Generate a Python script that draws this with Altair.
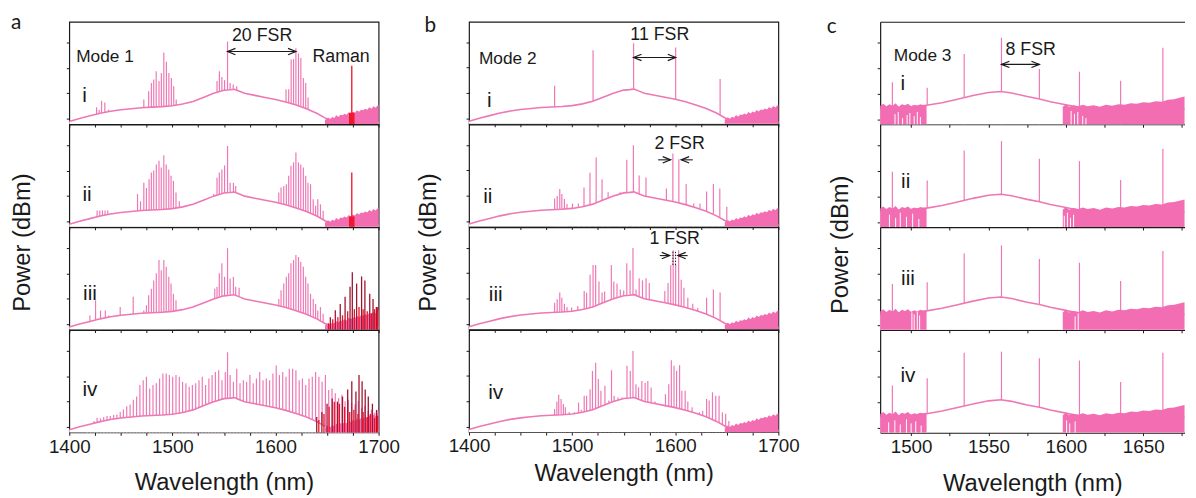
import altair as alt
import pandas as pd

FONT = "Liberation Sans"
PINK = "#EE78B5"
FILL = "#F26DB2"
RED = "#EE1020"
DARK = "#9E1530"
INK = "#1a1a1a"

# ---------------- axes / layout values ----------------
XDOM = {"a": [1400, 1700], "b": [1400, 1700], "c": [1480, 1676.7]}
XTICKS_AB = [1400, 1425, 1450, 1475, 1500, 1525, 1550, 1575, 1600, 1625, 1650, 1675, 1700]
XTICKS_C = [1500, 1525, 1550, 1575, 1600, 1625, 1650, 1675]
YTICKS = [5, 30, 55, 80]
WIDTH = {"a": 313, "b": 313, "c": 308}
HEIGHT = {"a": 103.5, "b": 103.25, "c": 103.75}
TITLE_PAD = {"a": 15, "b": 6, "c": 16}
GAP_AB = 16.5
GAP_BC = 26.5

# ---------------- background (ASE hump) ----------------
BASE_WL = [1400, 1405, 1410, 1420, 1430, 1440, 1450, 1460, 1470, 1480, 1490, 1500, 1510, 1520, 1530, 1540,
           1550, 1556, 1560, 1565, 1570, 1580, 1590, 1600, 1610, 1620, 1630, 1640, 1648, 1655, 1665, 1680, 1700]
BASE_LV = [2.5, 4, 5.5, 8, 10.5, 12.5, 14, 15, 16, 16.5, 17, 17.8, 19.5, 22, 26, 30,
           33, 33.5, 34, 32, 30, 28, 26, 24, 21.5, 18.5, 15, 10.5, 6, 3, 2, 2, 2]
C_BASE_WL = [1480, 1490, 1500, 1510, 1520, 1530, 1540, 1550, 1558, 1565, 1575, 1583, 1590, 1600, 1610, 1630, 1660, 1676.7]
C_BASE_LV = [15, 16, 17, 18.5, 21, 24.5, 28, 31, 32, 30.5, 27, 24.7, 22, 19, 16, 15, 15, 15]

NOISE_AB_WL = [1648, 1651, 1653, 1655, 1657, 1659, 1661, 1663, 1665, 1667, 1669, 1671, 1673, 1675, 1677,
               1679, 1681, 1683, 1685, 1687, 1689, 1691, 1693, 1695, 1697, 1700]
NOISE_AB_LV = [4, 6.5, 5, 7, 6, 8.5, 7, 9, 8.5, 10, 9, 11.5, 10, 12, 11,
               13.5, 12, 14, 13.5, 15, 14, 16.5, 15, 17.5, 16, 19]
NOISE_C_WL = [1480, 1482, 1484, 1486, 1488, 1490, 1492, 1494, 1496, 1498, 1500, 1502, 1504, 1506, 1508, 1510,
              1598, 1600, 1602, 1605, 1608, 1611, 1614, 1618, 1622, 1626, 1630, 1634, 1638, 1642, 1646, 1650,
              1654, 1658, 1662, 1666, 1670, 1674, 1676.7]
NOISE_C_LV = [18, 20, 17.5, 19.5, 18, 20.5, 17, 19.5, 18.5, 20, 17.5, 19, 18, 19.5, 18.5, 19,
              17, 19.5, 17, 18.5, 17.5, 19, 17.5, 18.5, 17, 19, 18, 19.5, 19, 20.5, 20, 21.5,
              21, 22.5, 22, 24, 24.5, 26, 27]
NOISE_C_SEG = [1] * 16 + [2] * 23

# ---------------- comb lines, Mode 1 ----------------
A1_WL = [1426.5, 1429, 1431.3, 1434.5, 1438,
         1472.3, 1477, 1479.6, 1481.9, 1484.3, 1487, 1489.3, 1491.7, 1494.2, 1496.6, 1499, 1501.3, 1503.7,
         1543.3, 1545.6, 1548, 1550.6, 1553.5, 1556, 1559, 1562.4,
         1605.4, 1610.2, 1612.8, 1615.2, 1617.5, 1619.8, 1622.3, 1624.6, 1627, 1629.3, 1631.6]
A1_PK = [16.3, 14, 22.8, 21, 14,
         24, 32, 40, 43.5, 51.6, 42, 50, 70, 61, 50, 45, 37, 24,
         42, 51.6, 46, 43, 80.6, 40, 38.7, 37,
         22.6, 34, 34, 63, 63.5, 74, 69, 64.5, 45, 40, 26]
A2_WL = [1427, 1429.6, 1432.2, 1434.7, 1437.3,
         1466.2, 1469.1, 1472.3, 1474.8, 1477.4, 1479.6, 1481.9, 1484.4, 1487, 1489.2, 1491.7, 1494, 1496.5,
         1498.7, 1501, 1503.5, 1506.7,
         1540.1, 1543.3, 1545.5, 1548, 1550.6, 1553.5, 1556, 1559.2, 1561.4,
         1603.2, 1605.4, 1608, 1610.5, 1612.8, 1615, 1617.5, 1619.8, 1622.3, 1624.5, 1627, 1629.3, 1631.5,
         1634, 1636.6, 1638.9, 1641, 1643.6, 1646.2]
A2_PK = [16, 16, 16, 16, 16,
         32, 25, 43, 38, 46.6, 53, 55, 61, 64.5, 58, 70, 61, 56,
         50, 45, 33.5, 25,
         32, 48, 53, 56, 60, 79, 43, 43, 40,
         33.5, 38.4, 40, 41.7, 50, 59.6, 63, 72.6, 63, 61, 58, 50, 43,
         41.7, 27, 20.5, 27, 22, 15.6]
A3_WL = [1420, 1425.5, 1430.3, 1435, 1438.2, 1449.4, 1462,
         1472.3, 1474.8, 1477, 1479.6, 1481.9, 1484.4, 1487, 1489.2, 1491.7, 1494, 1496.5, 1498.7, 1501, 1503.5,
         1541.1, 1543.3, 1545.5, 1548, 1550.6, 1553.5, 1556, 1559.2, 1561.4, 1564.7,
         1603.2, 1605.4, 1608, 1610.5, 1612.8, 1615, 1617.5, 1619.8, 1622.3, 1624.5, 1627, 1629.3, 1631.5,
         1634, 1636.6, 1638.9, 1641, 1643.6, 1646.2]
A3_PK = [13.8, 28.6, 18.7, 18.7, 13.8, 22, 32,
         18.7, 23.7, 33.5, 40, 48, 55, 68, 58, 68, 61.5, 51.6, 45, 35, 28.6,
         40, 41.8, 55, 64.8, 51.6, 79.6, 50, 51.6, 41.8, 41,
         30, 38.5, 45, 51.6, 55, 64.8, 68, 73, 71, 66.4, 61.5, 51.6, 45,
         35, 30, 25, 18.7, 22, 15.5]
A4_WL = [1417.5, 1420.7, 1424, 1427, 1430.3, 1433.4, 1436.6, 1439.8, 1443, 1446.2,
         1449.4, 1452.5, 1455.7, 1459, 1462.1, 1465.3, 1468.5, 1471.7, 1474.8, 1478,
         1481.2, 1484.4, 1487.6, 1490.8, 1494, 1497.1, 1500.3, 1503.5, 1506.7, 1509.9,
         1513.1, 1516.3, 1519.4, 1522.6, 1525.8, 1529, 1532.2, 1535.4, 1538.5, 1541.7,
         1544.9, 1548.1, 1551.3, 1553.5, 1556, 1559.2, 1562.4, 1565.6, 1568.8, 1572,
         1575.2, 1578.4, 1581.5, 1584.7, 1587.9, 1591.1, 1594.3, 1597.5, 1600.7, 1603.8,
         1607, 1610.2, 1613.4, 1616.6, 1619.8, 1623, 1626.1, 1629.3, 1632.5, 1635.7,
         1638.9, 1642.1, 1645.2, 1648.4, 1651.6, 1654.8, 1658, 1661.2, 1664.4, 1667.5,
         1670.7, 1673.9, 1677.1, 1680.3, 1683.5, 1686.7, 1689.8, 1693, 1696.2, 1699.4]
A4_PK = [6.4, 8, 11.2, 14.4, 13.7, 15, 16, 16, 17, 17.6,
         20, 22.4, 25.6, 27.2, 32, 35, 46.3, 51, 54.3, 43,
         46.3, 48, 52.7, 57.5, 57.5, 56, 54.3, 56, 54.3, 49.5,
         48, 44.7, 46.3, 48, 51, 54.3, 46.3, 52.7, 56, 59,
         60.7, 51, 59, 78.3, 56, 49.5, 62.3, 48, 51, 49.5,
         56, 48, 52.7, 59, 51, 52.7, 51, 57.5, 65.5, 56,
         59, 54.3, 62.3, 62.3, 60.7, 51, 52.7, 46.3, 52.7, 54.3,
         59, 54.3, 49.5, 56, 41.5, 43, 38.3, 33.5, 36.7, 30.4,
         32, 28.8, 27.2, 30.4, 24, 25.6, 20.8, 22.4, 19.2, 20.8]

# Raman lines (Mode 1)
RAMAN_A1_WL = [1672, 1673, 1675, 1676, 1674]
RAMAN_A1_PK = [11, 11, 11, 11, 57]
RAMAN_A2_WL = [1672, 1673, 1675, 1676, 1674]
RAMAN_A2_PK = [10, 10, 10, 10, 53]
DARK_A3_WL = [1653.2, 1658, 1662.8, 1667.5, 1672.3, 1674.5, 1678.7, 1683.5, 1686.7, 1691.4, 1694.6, 1697.8]
DARK_A3_PK = [12, 19, 25, 32, 42, 56, 45, 52, 48, 35, 30, 22]
RED_A3_WL = [1651.5, 1655.5, 1660.5, 1665, 1670, 1676.5, 1681, 1685, 1689, 1693, 1696, 1699]
RED_A3_PK = [6, 10, 12, 14, 18, 20, 22, 20, 18, 16, 20, 22]
DARK_A4_WL = [1640, 1645, 1650, 1655, 1660, 1665, 1670, 1674, 1678, 1681, 1684, 1687, 1690, 1694, 1698]
DARK_A4_PK = [15, 20, 28, 33, 30, 35, 42, 50, 40, 56, 50, 42, 35, 28, 22]
RED_A4_WL = [1642, 1647, 1652, 1657, 1662, 1667, 1672, 1676, 1680, 1685, 1689, 1692, 1696, 1699]
RED_A4_PK = [12, 18, 25, 30, 28, 25, 20, 22, 18, 20, 15, 18, 14, 16]

# ---------------- comb lines, Mode 2 ----------------
B1_WL = [1483, 1520.3, 1559.6, 1600.4, 1643.5]
B1_PK = [37.3, 72, 79, 74.7, 43.8]
B2_WL = [1483, 1485.5, 1488, 1490, 1492.5, 1495, 1500.3, 1506, 1511.5, 1517.3,
         1523.3, 1529, 1534.9, 1546.6, 1553, 1559.4, 1565, 1571.6, 1591.4, 1597.7,
         1603.5, 1610.6, 1617.9, 1624, 1630.4, 1637, 1643.2, 1650]
B2_PK = [27.6, 30, 36.8, 31.8, 27, 22, 22.5, 22.5, 38.4, 52.7,
         67.6, 46.4, 33.6, 33.6, 65.4, 79.7, 50, 48, 37.4, 71.7,
         66, 41.6, 22.5, 22.5, 34.3, 41.6, 37.4, 19.4]
B3_WL = [1483, 1485.5, 1488, 1490, 1492.5, 1495, 1499.5, 1505.5, 1511.7, 1514,
         1517.4, 1520.3, 1522.8, 1526, 1529, 1531.5, 1538, 1540.4, 1543.5, 1546.7,
         1550, 1553, 1556.2, 1559, 1562, 1565, 1568.2, 1571.7, 1574.8, 1578.7,
         1583.5, 1589.9, 1593, 1595.6, 1598, 1600.4, 1603.3, 1605.8, 1608.4, 1612.2,
         1617, 1621.8, 1630.4, 1637, 1643.5]
B3_PK = [26, 29.5, 36, 31, 25, 22, 21.5, 23, 37.5, 36,
         53.5, 63, 63, 47, 36, 37, 63, 47, 45, 39,
         38, 64.7, 58, 79.8, 39, 50, 48, 50, 45.5, 28,
         25, 37.5, 45.5, 63, 77.6, 63, 77.6, 48.7, 40.7, 31,
         25, 21, 31, 39, 36]
B4_WL = [1483, 1485.2, 1487, 1489.3, 1491.5, 1493.4, 1497.2, 1502, 1506.2, 1508.8,
         1511.7, 1514, 1517.4, 1519.7, 1522.8, 1525.4, 1527.9, 1531.8, 1535.6, 1538.2,
         1540.7, 1544.5, 1548.5, 1553.2, 1556.4, 1559, 1561.9, 1564.4, 1567.6, 1570.8,
         1573.4, 1576.6, 1580.4, 1583.6, 1586.7, 1590.5, 1593.7, 1596.2, 1598.8, 1601.3,
         1604.2, 1606.4, 1609.6, 1612.2, 1616.3, 1620.2, 1623.4, 1626.6, 1630.4, 1632.9,
         1636.1, 1639.3, 1642.5, 1645.7, 1648.9, 1652]
B4_PK = [22.7, 30, 36.7, 32.5, 27.6, 24.4, 19.5, 19.5, 29, 22,
         35.7, 35.7, 42, 60, 68, 52, 40.6, 45.5, 31, 60.7,
         35.7, 34, 34, 65, 60, 79.5, 47, 43.8, 50, 48.4,
         50, 43.8, 30, 27, 27, 37.3, 47, 70.5, 65, 60,
         65.6, 40.6, 40.6, 30, 24.4, 18, 19.5, 21, 32.5, 31,
         39, 35.7, 35.7, 19.5, 18, 11]

# ---------------- comb lines, Mode 3 ----------------
C_WL = [1487.9, 1510.4, 1534.3, 1558.4, 1582.9, 1608.8, 1635.4, 1662.7]
C1_PK = [41, 35.7, 68.5, 84.4, 54, 51.3, 42.5, 74.7]
C2_PK = [54, 45.5, 74.7, 83.8, 66.6, 64.3, 46, 76.3]
C3_PK = [44.7, 46.3, 74.4, 82.4, 69, 65.5, 47.6, 77]
C4_PK = [46, 53, 78, 79, 72.6, 70.3, 49.4, 78]

# gaps in the noise floor (Mode 3)
HOLE_C1_WL = [1489.6, 1491.7, 1494.5, 1497.4, 1499.2, 1502, 1504, 1506, 1603.4, 1605.6, 1607.7, 1610.9, 1613]
HOLE_C1_TOP = [10, 12, 6, 9, 11, 8, 12, 7, 13, 10, 12, 8, 6]
HOLE_C2_WL = [1486, 1490, 1493, 1497, 1501, 1505, 1599, 1601, 1603, 1605]
HOLE_C2_TOP = [12, 9, 14, 10, 13, 8, 11, 14, 9, 12]
HOLE_C3_WL = [1500.5, 1502, 1504, 1505.5, 1606, 1608]
HOLE_C3_TOP = [17, 15, 18, 14, 13, 16]
HOLE_C4_WL = [1485.5, 1489.5, 1493, 1497, 1500, 1503, 1506.5, 1600.5, 1602.5, 1606]
HOLE_C4_TOP = [10, 12, 8, 13, 9, 11, 7, 12, 9, 11]

# ---------------- annotations ----------------
ROMAN = ["i", "ii", "iii", "iv"]
ROMAN_WL = {"a": [1414.9, 1417.3, 1420.1, 1420.1], "b": [1419.6, 1418.2, 1425.9, 1425.9],
            "c": [1494.6, 1496.5, 1498, 1498]}
ROMAN_LV = {"a": [21.2, 25.7, 28.5, 35.2], "b": [16.7, 22.9, 27.7, 32.3], "c": [33.4, 38.5, 44.1, 49.3]}
MODE_TXT = {"a": "Mode 1", "b": "Mode 2", "c": "Mode 3"}
MODE_WL = {"a": 1406.7, "b": 1409.6, "c": 1488.8}
MODE_LV = {"a": 60.3, "b": 58.5, "c": 61.6}
LBL_COL = ["a", "a", "b", "b", "b", "c"]
LBL_ROW = [0, 0, 0, 1, 2, 0]
LBL_WL = [1587, 1663.6, 1585, 1604.2, 1599.4, 1577.3]
LBL_LV = [81, 60.3, 82, 76.5, 83.3, 67.5]
LBL_TXT = ["20 FSR", "Raman", "11 FSR", "2 FSR", "1 FSR", "8 FSR"]
ARR_COL = ["a", "b", "c", "b", "b", "b", "b"]
ARR_ROW = [0, 0, 0, 1, 1, 2, 2]
ARR_X1 = [1553.5, 1559.6, 1558.4, 1583.4, 1617, 1585, 1612]
ARR_X2 = [1619.8, 1600.4, 1582.9, 1595.5, 1605.8, 1594.6, 1602.5]
ARR_Y = [70.9, 65, 58.4, 65.4, 65.4, 72.3, 72.3]
ARR_BOTH = [True, True, True, False, False, False, False]
DOT_WL = [1597.7, 1600.3]
DOT_LO = [63, 63]
DOT_HI = [77, 77]
LETTER_X = {"a": -59, "b": -45, "c": -54}
LETTER_Y = {"a": 7, "b": 10, "c": 11.7}
POWER_X = {"a": -40, "b": -33, "c": -33}
POWER_Y = {"a": 223.5, "b": 223.5, "c": 225.7}

HEAD_L = "M2,-0.8L0,0L2,0.8"
HEAD_R = "M-2,-0.8L0,0L-2,0.8"

COMB = {
    "a": [(A1_WL, A1_PK), (A2_WL, A2_PK), (A3_WL, A3_PK), (A4_WL, A4_PK)],
    "b": [(B1_WL, B1_PK), (B2_WL, B2_PK), (B3_WL, B3_PK), (B4_WL, B4_PK)],
    "c": [(C_WL, C1_PK), (C_WL, C2_PK), (C_WL, C3_PK), (C_WL, C4_PK)],
}
RAMAN = {
    ("a", 0): [(RAMAN_A1_WL, RAMAN_A1_PK, RED)],
    ("a", 1): [(RAMAN_A2_WL, RAMAN_A2_PK, RED)],
    ("a", 2): [(DARK_A3_WL, DARK_A3_PK, DARK), (RED_A3_WL, RED_A3_PK, RED)],
    ("a", 3): [(DARK_A4_WL, DARK_A4_PK, DARK), (RED_A4_WL, RED_A4_PK, RED)],
}
HOLES = {
    ("c", 0): (HOLE_C1_WL, HOLE_C1_TOP),
    ("c", 1): (HOLE_C2_WL, HOLE_C2_TOP),
    ("c", 2): (HOLE_C3_WL, HOLE_C3_TOP),
    ("c", 3): (HOLE_C4_WL, HOLE_C4_TOP),
}


def xenc(col, field, bottom):
    kw = dict(values=XTICKS_C if col == "c" else XTICKS_AB, tickSize=3, tickWidth=1, grid=False,
              domain=(col == "c"), labels=bottom, labelFlush=False, labelOverlap=False)
    if bottom:
        step = 50 if col == "c" else 100
        kw.update(labelExpr=f"datum.value % {step} == 0 ? format(datum.value, 'd') : ''",
                  labelFontSize=19, labelPadding=2, titleFontSize=24,
                  titlePadding=TITLE_PAD[col], titleFontWeight="normal")
    return alt.X(f"{field}:Q", scale=alt.Scale(domain=XDOM[col], nice=False, zero=False),
                 axis=alt.Axis(**kw), title="Wavelength (nm)" if bottom else None)


def yenc(col, field):
    return alt.Y(f"{field}:Q", scale=alt.Scale(domain=[0, 100], nice=False, zero=False),
                 axis=alt.Axis(values=YTICKS, labels=False, tickSize=3, tickWidth=1, grid=False,
                               domain=(col == "c")),
                 title=None)


def panel(col, r):
    bottom = r == 3
    X = lambda f: xenc(col, f, bottom)
    Y = lambda f: yenc(col, f)
    layers = []
    wl, pk = COMB[col][r]
    layers.append(alt.Chart(pd.DataFrame({"wl": wl, "pk": pk})).mark_rule(color=PINK, strokeWidth=1.2)
                  .encode(x=X("wl"), y=Y("pk"), y2=alt.datum(0)))
    if col == "c":
        base = pd.DataFrame({"wl": C_BASE_WL, "lv": C_BASE_LV})
    else:
        base = pd.DataFrame({"wl": BASE_WL, "lv": BASE_LV})
    layers.append(alt.Chart(base).mark_area(color="white", opacity=1)
                  .encode(x=X("wl"), y=Y("lv"), y2=alt.datum(0)))
    layers.append(alt.Chart(base).mark_line(color=PINK, strokeWidth=1.6)
                  .encode(x=X("wl"), y=Y("lv")))
    if col == "c":
        nd = pd.DataFrame({"wl": NOISE_C_WL, "lv": NOISE_C_LV, "seg": NOISE_C_SEG})
        layers.append(alt.Chart(nd).mark_area(color=FILL, opacity=1)
                      .encode(x=X("wl"), y=Y("lv"), y2=alt.datum(0), detail="seg:N"))
    else:
        nd = pd.DataFrame({"wl": NOISE_AB_WL, "lv": NOISE_AB_LV})
        layers.append(alt.Chart(nd).mark_area(color=FILL, opacity=1)
                      .encode(x=X("wl"), y=Y("lv"), y2=alt.datum(0)))
    if (col, r) in HOLES:
        hw, ht = HOLES[(col, r)]
        layers.append(alt.Chart(pd.DataFrame({"wl": hw, "pk": ht})).mark_rule(color="white", strokeWidth=1)
                      .encode(x=X("wl"), y=Y("pk"), y2=alt.datum(0)))
    for rw, rp, rc in RAMAN.get((col, r), []):
        layers.append(alt.Chart(pd.DataFrame({"wl": rw, "pk": rp})).mark_rule(color=rc, strokeWidth=1.3)
                      .encode(x=X("wl"), y=Y("pk"), y2=alt.datum(0)))
    # arrows
    idx = [k for k in range(len(ARR_COL)) if ARR_COL[k] == col and ARR_ROW[k] == r]
    if idx:
        ad = pd.DataFrame({"x1": [ARR_X1[k] for k in idx], "x2": [ARR_X2[k] for k in idx],
                           "y": [ARR_Y[k] for k in idx]})
        layers.append(alt.Chart(ad).mark_rule(color=INK, strokeWidth=1.1)
                      .encode(x=X("x1"), x2=alt.X2("x2:Q"), y=Y("y")))
        hx, hy, hd = [], [], []
        for k in idx:
            x1, x2 = ARR_X1[k], ARR_X2[k]
            hx.append(x2)
            hy.append(ARR_Y[k])
            hd.append("R" if x2 > x1 else "L")
            if ARR_BOTH[k]:
                hx.append(x1)
                hy.append(ARR_Y[k])
                hd.append("L" if x2 > x1 else "R")
        hdf = pd.DataFrame({"x": hx, "y": hy, "d": hd})
        layers.append(alt.Chart(hdf).mark_point(filled=False, color=INK, strokeWidth=1.2, size=64, opacity=1)
                      .encode(x=X("x"), y=Y("y"),
                              shape=alt.Shape("d:N", scale=alt.Scale(domain=["L", "R"], range=[HEAD_L, HEAD_R]),
                                              legend=None)))
    if (col, r) == ("b", 2):
        dd = pd.DataFrame({"wl": DOT_WL, "lo": DOT_LO, "hi": DOT_HI})
        layers.append(alt.Chart(dd).mark_rule(color=INK, strokeWidth=1, strokeDash=[1.5, 1.5])
                      .encode(x=X("wl"), y=Y("lo"), y2=alt.Y2("hi:Q")))
    # text labels
    sel = [k for k in range(len(LBL_COL)) if LBL_COL[k] == col and LBL_ROW[k] == r]
    if sel:
        ld = pd.DataFrame({"wl": [LBL_WL[k] for k in sel], "lv": [LBL_LV[k] for k in sel],
                           "t": [LBL_TXT[k] for k in sel]})
        layers.append(alt.Chart(ld).mark_text(font=FONT, fontSize=18, color=INK, align="center",
                                              baseline="alphabetic")
                      .encode(x=X("wl"), y=Y("lv"), text="t:N"))
    rd = pd.DataFrame({"wl": [ROMAN_WL[col][r]], "lv": [ROMAN_LV[col][r]], "t": [ROMAN[r]]})
    layers.append(alt.Chart(rd).mark_text(font=FONT, fontSize=21, color=INK, align="center",
                                          baseline="alphabetic")
                  .encode(x=X("wl"), y=Y("lv"), text="t:N"))
    if r == 0:
        md = pd.DataFrame({"wl": [MODE_WL[col]], "lv": [MODE_LV[col]], "t": [MODE_TXT[col]]})
        layers.append(alt.Chart(md).mark_text(font=FONT, fontSize=17.5, color=INK, align="left",
                                              baseline="alphabetic")
                      .encode(x=X("wl"), y=Y("lv"), text="t:N"))
        layers.append(alt.Chart(pd.DataFrame({"t": [col]})).mark_text(font="Lato", fontSize=21, color=INK,
                                                                      align="left", baseline="alphabetic")
                      .encode(x=alt.value(LETTER_X[col]), y=alt.value(LETTER_Y[col]), text="t:N"))
        layers.append(alt.Chart(pd.DataFrame({"t": ["Power (dBm)"]}))
                      .mark_text(font=FONT, fontSize=24, color=INK, align="center", baseline="alphabetic",
                                 angle=270)
                      .encode(x=alt.value(POWER_X[col]), y=alt.value(POWER_Y[col]), text="t:N"))
    ch = alt.layer(*layers)
    if col == "c" and r == 0:
        top = alt.Chart(base).mark_line(opacity=0).encode(
            x=alt.X("wl:Q", scale=alt.Scale(domain=XDOM[col], nice=False, zero=False),
                    axis=alt.Axis(orient="top", labels=False, ticks=False, domain=True, grid=False),
                    title=None),
            y=Y("lv"))
        ch = alt.layer(ch, top).resolve_axis(x="independent")
    props = dict(width=WIDTH[col], height=HEIGHT[col])
    if col == "c":
        props["view"] = alt.ViewBackground(stroke=None)
    return ch.properties(**props)


columns = {}
for col in ["a", "b", "c"]:
    columns[col] = alt.vconcat(*[panel(col, r) for r in range(4)], spacing=0, bounds="flush")

chart = alt.hconcat(
    alt.hconcat(columns["a"], columns["b"], spacing=GAP_AB),
    columns["c"], spacing=GAP_BC,
).properties(
    padding={"left": 2, "top": 0, "right": 0, "bottom": 0}
).configure_view(
    stroke=INK, strokeWidth=1.2
).configure_axis(
    labelFont=FONT, titleFont=FONT, labelColor=INK, titleColor=INK,
    tickColor=INK, domainColor=INK, domainWidth=1.2, grid=False
)

chart.save("out.html", embed_options={"renderer": "svg", "actions": False})
